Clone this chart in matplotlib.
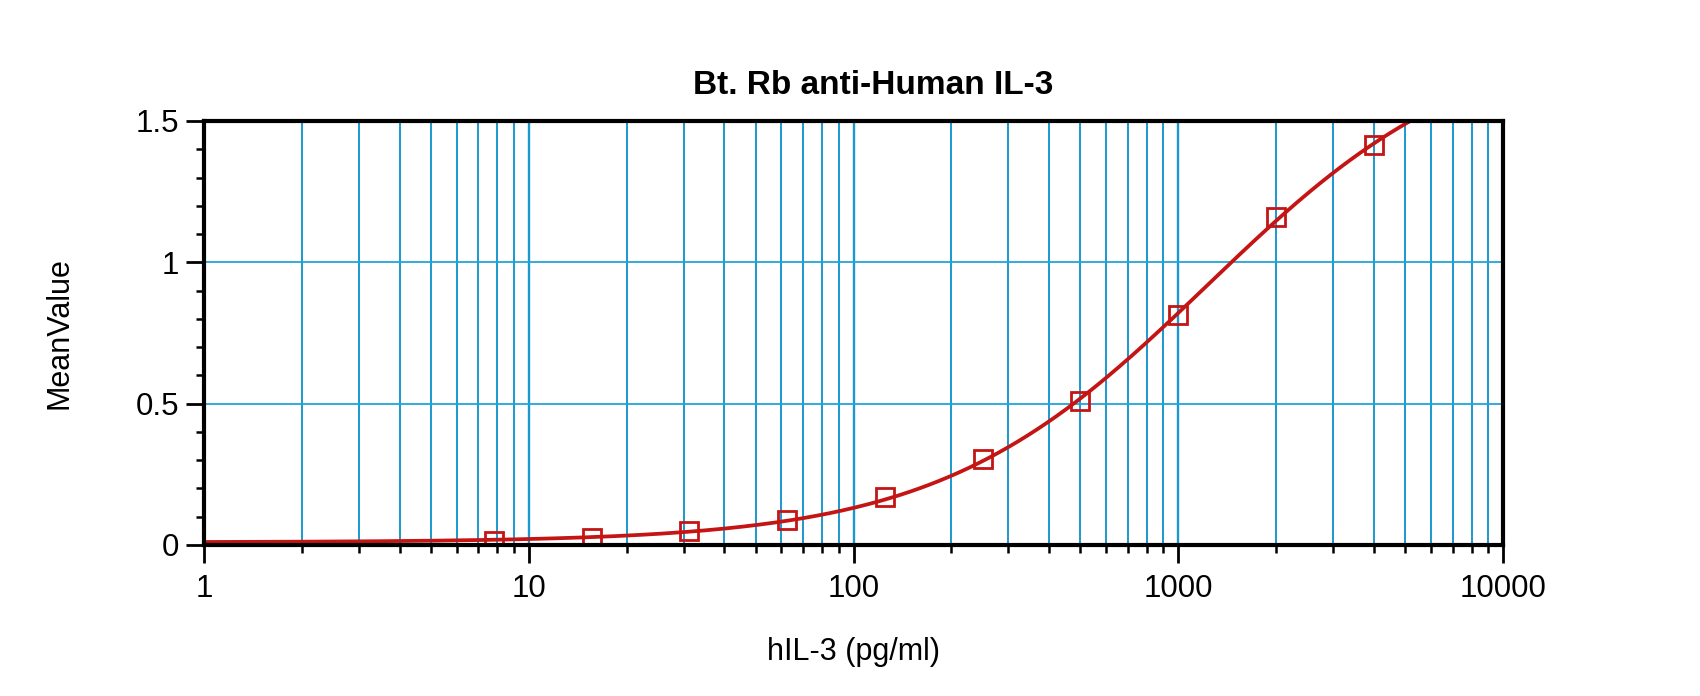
import matplotlib
matplotlib.use('Agg')
import matplotlib.pyplot as plt
import numpy as np
from matplotlib.ticker import LogLocator, MultipleLocator, FuncFormatter

plt.rcParams['font.family'] = ['Liberation Sans', 'DejaVu Sans']

# standards
conc = np.array([7.8125, 15.625, 31.25, 62.5, 125, 250, 500, 1000, 2000, 4000])
mean_value = np.array([0.013, 0.023, 0.05, 0.088, 0.169, 0.303, 0.51, 0.813, 1.16, 1.415])

title = 'Bt. Rb anti-Human IL-3'
x_label = 'hIL-3 (pg/ml)'
y_label = 'MeanValue'

red = '#c41414'
grid_blue = '#1a99cf'


def fit_4pl(x, y):
    # y = d + (a - d) / (1 + (x/c)^b); a, d solved linearly for each (b, c)
    lx = np.log10(x)[None, None, :]
    bs = np.linspace(0.5, 3.0, 251)[:, None, None]
    lcs = np.linspace(1.5, 5.0, 351)[None, :, None]
    g = 1.0 / (1.0 + 10 ** (bs * (lx - lcs)))
    h = 1.0 - g
    sgg = (g * g).sum(-1)
    sgh = (g * h).sum(-1)
    shh = (h * h).sum(-1)
    sgy = (g * y).sum(-1)
    shy = (h * y).sum(-1)
    det = sgg * shh - sgh ** 2
    a = (shh * sgy - sgh * shy) / det
    d = (sgg * shy - sgh * sgy) / det
    res = ((a[..., None] * g + d[..., None] * h - y) ** 2).sum(-1)
    i, j = np.unravel_index(np.argmin(res), res.shape)
    return a[i, j], d[i, j], bs[i, 0, 0], 10 ** lcs[0, j, 0]


a, d, b, c = fit_4pl(conc, mean_value)
xs = np.logspace(0, 4, 400)
ys = d + (a - d) / (1 + (xs / c) ** b)

fig = plt.figure(figsize=(17, 6.96), dpi=100)
ax = fig.add_axes([204 / 1700, 1 - 545 / 696, 1299 / 1700, 424 / 696])

ax.plot(xs, ys, color=red, lw=2.7, zorder=3)
ax.plot(conc, mean_value, ls='none', marker='s', ms=12.5, mfc='none',
        mec=red, mew=2.0, zorder=4)

ax.set_xscale('log')
ax.set_xlim(1, 10000)
ax.set_ylim(0, 1.5)

ax.xaxis.set_major_locator(LogLocator(base=10, numticks=10))
ax.xaxis.set_minor_locator(LogLocator(base=10, subs=np.arange(2, 10), numticks=20))
ax.xaxis.set_major_formatter(FuncFormatter(lambda v, p: '%g' % v))
ax.yaxis.set_major_locator(MultipleLocator(0.5))
ax.yaxis.set_minor_locator(MultipleLocator(0.1))
ax.yaxis.set_major_formatter(FuncFormatter(lambda v, p: '%g' % v))

ax.grid(True, which='major', axis='x', color=grid_blue, lw=1.7)
ax.grid(True, which='minor', axis='x', color=grid_blue, lw=1.4)
ax.grid(True, which='major', axis='y', color='#22a4da', lw=1.3)
ax.set_axisbelow(True)

for s in ax.spines.values():
    s.set_linewidth(3)
    s.set_zorder(5)

ax.tick_params(which='major', direction='out', length=13, width=2, labelsize=22.5)
ax.tick_params(which='minor', direction='out', length=6, width=1.8)
ax.tick_params(axis='x', which='major', pad=8)
ax.tick_params(axis='y', which='major', pad=5)

ax.set_xlabel(x_label, fontsize=22, va='center')
ax.xaxis.set_label_coords(0.5, -(652 - 545) / 424)
ax.set_ylabel(y_label, fontsize=22, va='center')
ax.yaxis.set_label_coords((60 - 204) / 1299, 0.5)

fig.text(873 / 1700, 1 - 86 / 696, title, fontsize=24, fontweight='bold',
         ha='center', va='center')

fig.savefig('out.png', dpi=100)
